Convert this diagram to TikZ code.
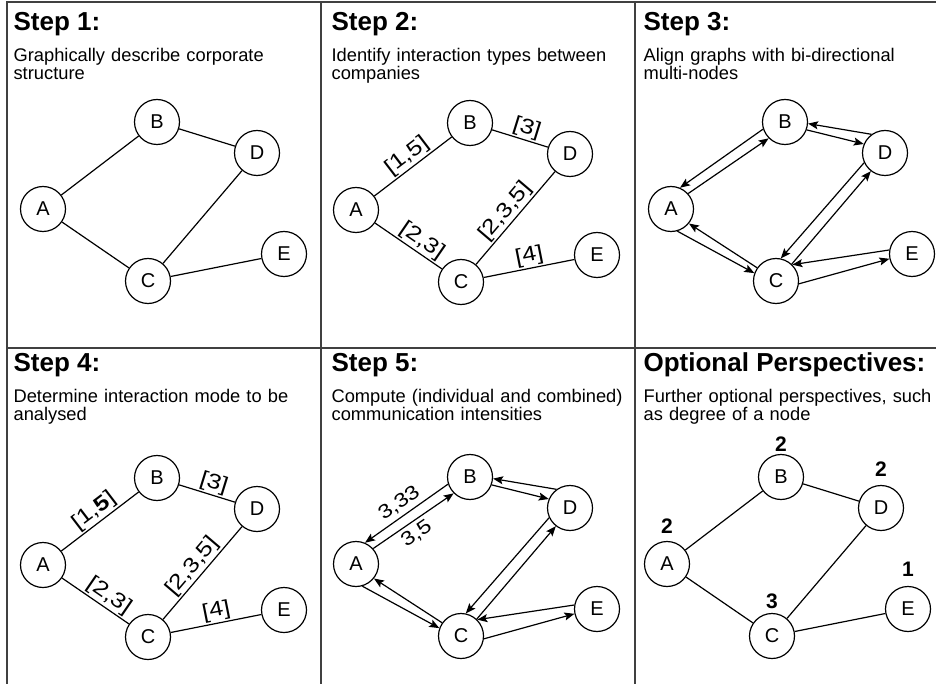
\documentclass[tikz,border=0pt]{standalone}
\usepackage{fontspec}
\setmainfont{Liberation Sans}
\newfontfamily\tagfont{Liberation Sans}[FakeStretch=1.2]
\usetikzlibrary{arrows.meta}

% the five companies, same layout in every panel
\newcommand{\companies}{%
  \node[firm] (A) at (43,209)  {A};
  \node[firm] (B) at (157,122) {B};
  \node[firm] (C) at (148,281) {C};
  \node[firm] (D) at (257,153) {D};
  \node[firm] (E) at (284,254) {E};
}
% bi-directional links between the companies
\newcommand{\flows}{%
  \draw[->] (B.198) -- (A.67);
  \draw[->] (A.42)  -- (B.225);
  \draw[->] (D.126) -- (B.356);
  \draw[->] (B.340) -- (D.157);
  \draw[->] (D.205) -- (C.78);
  \draw[->] (C.47)  -- (D.232);
  \draw[->] (C.145) -- (A.321);
  \draw[->] (A.286) -- (C.160);
  \draw[->] (E.170) -- (C.45);
  \draw[->] (C.353) -- (E.192);
}

\begin{document}
\begin{tikzpicture}[x=1pt,y=-1pt,line width=1.2pt,
                    >={Stealth[length=10pt,width=8pt,inset=2pt]},
                    font=\fontsize{18.3}{18}\selectfont]
  \tikzstyle{firm}=[circle,draw,minimum size=45pt,inner sep=0pt,font=\fontsize{20}{20}\selectfont]
  \tikzstyle{head}=[anchor=base west,inner sep=0pt,font=\fontsize{26}{28}\selectfont\bfseries]
  \tikzstyle{desc}=[anchor=base west,inner sep=0pt,text width=300pt,align=left]
  \tikzstyle{tag}=[sloped,above,inner sep=1.5pt,font=\tagfont\fontsize{21}{21}\selectfont]
  \tikzstyle{flowtag}=[sloped,inner sep=4pt,font=\tagfont\fontsize{19.5}{20}\selectfont]
  \tikzstyle{degree}=[anchor=south,font=\fontsize{21}{21}\selectfont\bfseries]
  \tikzstyle{frame}=[draw=black!75,line width=1.5pt]

  \useasboundingbox (0,0) rectangle (936,684);

  % panel frames
  \draw[frame] (7,684) -- (7,2) -- (936,2) (7,348) -- (936,348)
               (321,2) -- (321,684) (635,2) -- (635,684);

  % headings
  \node[head] (t1) at (13,31)   {Step 1:};
  \node[desc] (d1) at (13,62)   {Graphically describe corporate\\structure};
  \node[head] (t2) at (331,31)  {Step 2:};
  \node[desc] (d2) at (331,62)  {Identify interaction types between\\companies};
  \node[head] (t3) at (643,31)  {Step 3:};
  \node[desc] (d3) at (643,62)  {Align graphs with bi-directional\\multi-nodes};
  \node[head] (t4) at (13,371)  {Step 4:};
  \node[desc] (d4) at (13,402)  {Determine interaction mode to be\\analysed};
  \node[head] (t5) at (331,371) {Step 5:};
  \node[desc] (d5) at (331,402) {Compute (individual and combined)\\communication intensities};
  \node[head] (t6) at (643,371) {Optional Perspectives:};
  \node[desc] (d6) at (643,402) {Further optional perspectives, such\\as degree of a node};

  % step 1
  \begin{scope}[name prefix=s1-]
    \companies
    \path (A) edge (B) edge (C) (B) edge (D) (D) edge (C) (C) edge (E);
  \end{scope}

  % step 2
  \begin{scope}[shift={(313,1)},name prefix=s2-]
    \companies
    \path (A) edge node[tag,pos=.52,name=l1] {[1,5]}   (B)
          (B) edge node[tag,pos=.56,name=l2] {[3]}     (D)
          (D) edge node[tag,pos=.51,name=l3] {[2,3,5]} (C)
          (A) edge node[tag,pos=.6,name=l4]  {[2,3]}   (C)
          (C) edge node[tag,pos=.53,name=l5] {[4]}     (E);
  \end{scope}

  % step 3
  \begin{scope}[shift={(628,0)},name prefix=s3-]
    \companies
    \flows
  \end{scope}

  % step 4
  \begin{scope}[shift={(0,356)},name prefix=s4-]
    \companies
    \path (A) edge node[tag,pos=.52,name=l1] {[1,\textbf{5}]} (B)
          (B) edge node[tag,pos=.56,name=l2] {[3]}     (D)
          (D) edge node[tag,pos=.51,name=l3] {[2,3,5]} (C)
          (A) edge node[tag,pos=.6,name=l4]  {[2,3]}   (C)
          (C) edge node[tag,pos=.53,name=l5] {[4]}     (E);
  \end{scope}

  % step 5
  \begin{scope}[shift={(313,355)},name prefix=s5-]
    \companies
    \flows
    \path (B.198) -- node[flowtag,above,name=w1] {3,33} (A.67)
          (A.42) -- node[flowtag,below,pos=.45,name=w2] {3,5} (B.225);
  \end{scope}

  % optional perspectives: degree of each node
  \begin{scope}[shift={(624,355)},name prefix=s6-]
    \companies
    \path (A) edge (B) edge (C) (B) edge (D) (D) edge (C) (C) edge (E);
    \node[degree,yshift=3pt] (gA) at (A.north) {2};
    \node[degree,yshift=-2pt] (gB) at (B.north) {2};
    \node[degree]            (gC) at (C.north) {3};
    \node[degree,yshift=4pt] (gD) at (D.north) {2};
    \node[degree,yshift=5pt] (gE) at (E.north) {1};
  \end{scope}
\end{tikzpicture}
\end{document}
